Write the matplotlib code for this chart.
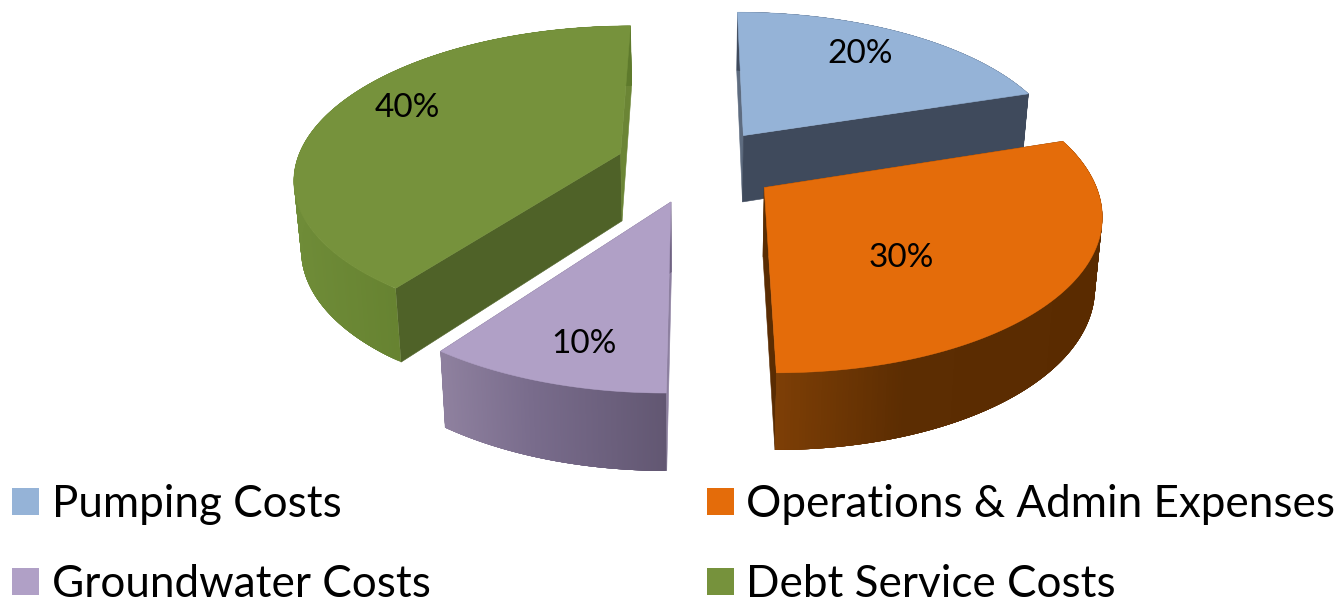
import numpy as np
import matplotlib
matplotlib.use("Agg")
import matplotlib.pyplot as plt
from matplotlib.collections import PolyCollection
from matplotlib.colors import to_rgb
from matplotlib.patches import Patch

# ---- data ----
categories = ["Pumping Costs", "Operations & Admin Expenses", "Groundwater Costs", "Debt Service Costs"]
shares = [20, 30, 10, 40]

# ---- style ----
top_colors = ["#95B3D7", "#E46C0A", "#B0A0C6", "#76923C"]
start_wall = ["#5E6C80", "#5A2C02", "#8D80A0", "#4F6228"]
end_wall = ["#3F4A5C", "#5A2C02", "#6F6382", "#6B8535"]
arc_stops = [
    ["#3F4A5C", "#3F4A5C", "#3F4A5C"],
    ["#7E3F06", "#5C2D02", "#5A2B00"],
    ["#8F819F", "#796C8C", "#625772"],
    ["#6F8C38", "#64802F", "#5E7A2C"],
]
label_xy = [(860, 54), (901, 258), (584, 344), (407, 108)]
draw_order = [0, 3, 2, 1]

# projection of the tilted disc to the picture
CX, CY, RX, RY, PERSP, EXPLODE = 697, 165, 325, 150, 0.15, 0.25


def project(u, v):
    d = 1 - PERSP * v
    return CX + RX * u / d, CY + RY * v / d


def project_bottom(u, v):
    x, y = project(u, v)
    return CX + (x - CX) * 0.982, y + 68 + 8 * v


plt.rcParams["font.family"] = ["Lato", "DejaVu Sans"]
fig = plt.figure(figsize=(13.4, 6), dpi=100)
ax = fig.add_axes([0, 0, 1, 1])
ax.set_xlim(0, 1340)
ax.set_ylim(600, 0)
ax.set_autoscale_on(False)
ax.axis("off")

edges = np.cumsum([0] + shares) / sum(shares) * 2 * np.pi
for i in draw_order:
    a0, a1 = edges[i], edges[i + 1]
    mid = (a0 + a1) / 2
    ou, ov = EXPLODE * np.sin(mid), -EXPLODE * np.cos(mid)
    th = np.linspace(a0, a1, 240)
    u = ou + np.sin(th)
    v = ov - np.cos(th)
    tx, ty = project(u, v)
    bx, by = project_bottom(u, v)
    apx, apy = project(ou, ov)
    bax, bay = project_bottom(ou, ov)

    # radial walls
    for e, col in ((0, start_wall[i]), (-1, end_wall[i])):
        ax.fill([apx, tx[e], bx[e], bax], [apy, ty[e], by[e], bay],
                color=col, lw=0.4, zorder=i * 4 + 1)

    # outer wall with horizontal shading; neighbouring strips overlap to hide seams
    rgb = np.array([to_rgb(c) for c in arc_stops[i]])
    xmin, xmax = tx.min(), tx.max()
    quads, cols = [], []
    step = 6
    for k in range(len(th) - 1):
        j = min(k + step, len(th) - 1)
        quads.append(np.c_[np.r_[tx[k:j + 1], bx[k:j + 1][::-1]], np.r_[ty[k:j + 1], by[k:j + 1][::-1]]])
        f = (tx[k] - xmin) / (xmax - xmin)
        cols.append([np.interp(f, [0, 0.4, 1], rgb[:, c]) for c in range(3)])
    ax.add_collection(PolyCollection(quads, facecolors=cols, edgecolors="none", linewidths=0, zorder=i * 4 + 2))

    # top face
    ax.fill(np.r_[apx, tx], np.r_[apy, ty], color=top_colors[i], lw=0.4, zorder=i * 4 + 3)
    ax.text(*label_xy[i], f"{shares[i]}%", ha="center", va="center", fontsize=24, color="black", zorder=30)

order = [0, 2, 1, 3]
handles = [Patch(color=top_colors[i], lw=0) for i in order]
labels = [categories[i] for i in order]
ax.legend(handles, labels, ncols=2, loc="lower left", bbox_to_anchor=(12, 605), bbox_transform=ax.transData,
          frameon=False, fontsize=31.7, borderpad=0, borderaxespad=0, handlelength=0.61, handleheight=0.57,
          handletextpad=0.29, labelspacing=0.89, columnspacing=6.275)

fig.savefig("out.png", dpi=100)
